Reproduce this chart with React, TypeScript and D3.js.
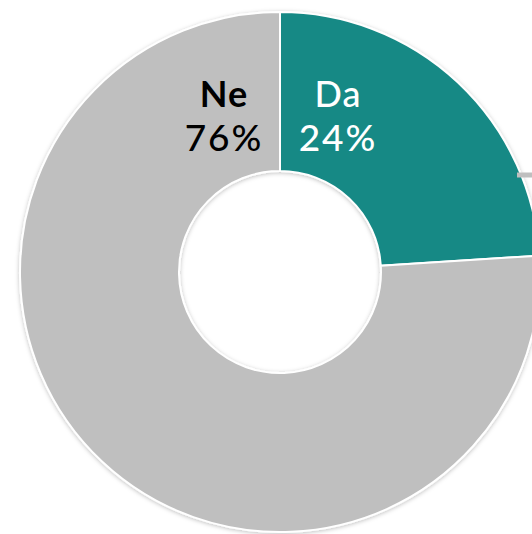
import React from "react";
import * as d3 from "d3";

const categories = ["Da", "Ne"];
const values = [24, 76];
const labels = ["24%", "76%"];
const colors = ["#178985", "#bfbfbf"];
const textColors = ["#ffffff", "#000000"];

const W = 532;
const H = 534;
const cx = 280;
const cy = 272;
const outerR = 260;
const innerR = 101;

export default function App() {
  const pie = d3.pie<number>().sort(null).value((d) => d).startAngle(0).endAngle(2 * Math.PI);
  const arcs = pie(values);
  const arcGen = d3.arc<d3.PieArcDatum<number>>().innerRadius(innerR).outerRadius(outerR);

  const labelX = [337, 223];
  const nameWeight = [500, 700];
  const ls = 2;

  return (
    <svg
      width={W}
      height={H}
      style={{ position: "fixed", left: 0, top: 0, background: "#fff" }}
    >
      <defs>
        <filter id="sh" x="-10%" y="-10%" width="120%" height="120%">
          <feDropShadow dx="0" dy="1" stdDeviation="2" floodColor="#000" floodOpacity="0.25" />
        </filter>
      </defs>
      <g transform={`translate(${cx},${cy})`}>
        <g filter="url(#sh)">
          {arcs.map((a, i) => (
            <path key={categories[i]} d={arcGen(a) || ""} fill={colors[i]} stroke="#fff" strokeWidth={2} />
          ))}
        </g>
      </g>
      <line x1={517} x2={532} y1={175} y2={175} stroke="#bfbfbf" strokeWidth={5} />
      {categories.map((c, i) => (
        <g key={c} fontFamily="Lato, 'Open Sans', sans-serif" fill={textColors[i]} textAnchor="middle">
          <text x={labelX[i] + ls / 2} y={107} fontSize={36} fontWeight={nameWeight[i]} letterSpacing={1}>
            {c}
          </text>
          <text x={labelX[i] + ls / 2} y={151} fontSize={37} fontWeight={500} letterSpacing={ls}>
            {labels[i]}
          </text>
        </g>
      ))}
    </svg>
  );
}
